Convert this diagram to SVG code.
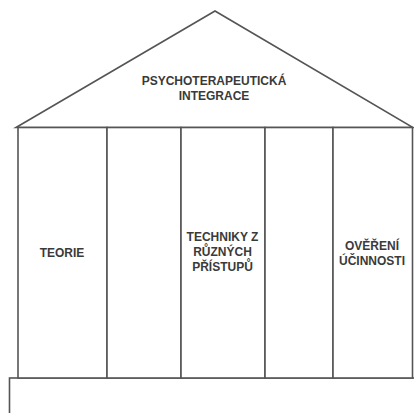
<svg xmlns="http://www.w3.org/2000/svg" width="414" height="413" viewBox="0 0 414 413">
<style>
.ln{fill:#fff;stroke:#555;stroke-width:1.6}
.t{font-family:"Liberation Sans",Arial,sans-serif;font-weight:bold;font-size:12px;fill:#3a3a3a;text-anchor:middle}
</style>
<rect width="414" height="413" fill="#fff"/>
<g id="base"><rect class="ln" x="9.5" y="378" width="420" height="60"/></g>
<g id="roof">
<polygon class="ln" points="16,127.5 215,11 413,127.5"/>
<text class="t" x="214" y="85">PSYCHOTERAPEUTICKÁ</text>
<text class="t" x="214" y="100">INTEGRACE</text>
</g>
<g id="col1"><rect class="ln" x="18" y="127.5" width="89" height="250.5"/><text class="t" x="62" y="257">TEORIE</text></g>
<g id="col2"><rect class="ln" x="107" y="127.5" width="74" height="250.5"/></g>
<g id="col3"><rect class="ln" x="181" y="127.5" width="84" height="250.5"/>
<text class="t" x="222.5" y="241">TECHNIKY Z</text>
<text class="t" x="222.5" y="256">RŮZNÝCH</text>
<text class="t" x="222.5" y="271">PŘÍSTUPŮ</text></g>
<g id="col4"><rect class="ln" x="265" y="127.5" width="68" height="250.5"/></g>
<g id="col5"><rect class="ln" x="333" y="127.5" width="79.5" height="250.5"/>
<text class="t" x="372" y="250">OVĚŘENÍ</text>
<text class="t" x="372" y="264.5">ÚČINNOSTI</text></g>
<g id="connectors"/>
</svg>
